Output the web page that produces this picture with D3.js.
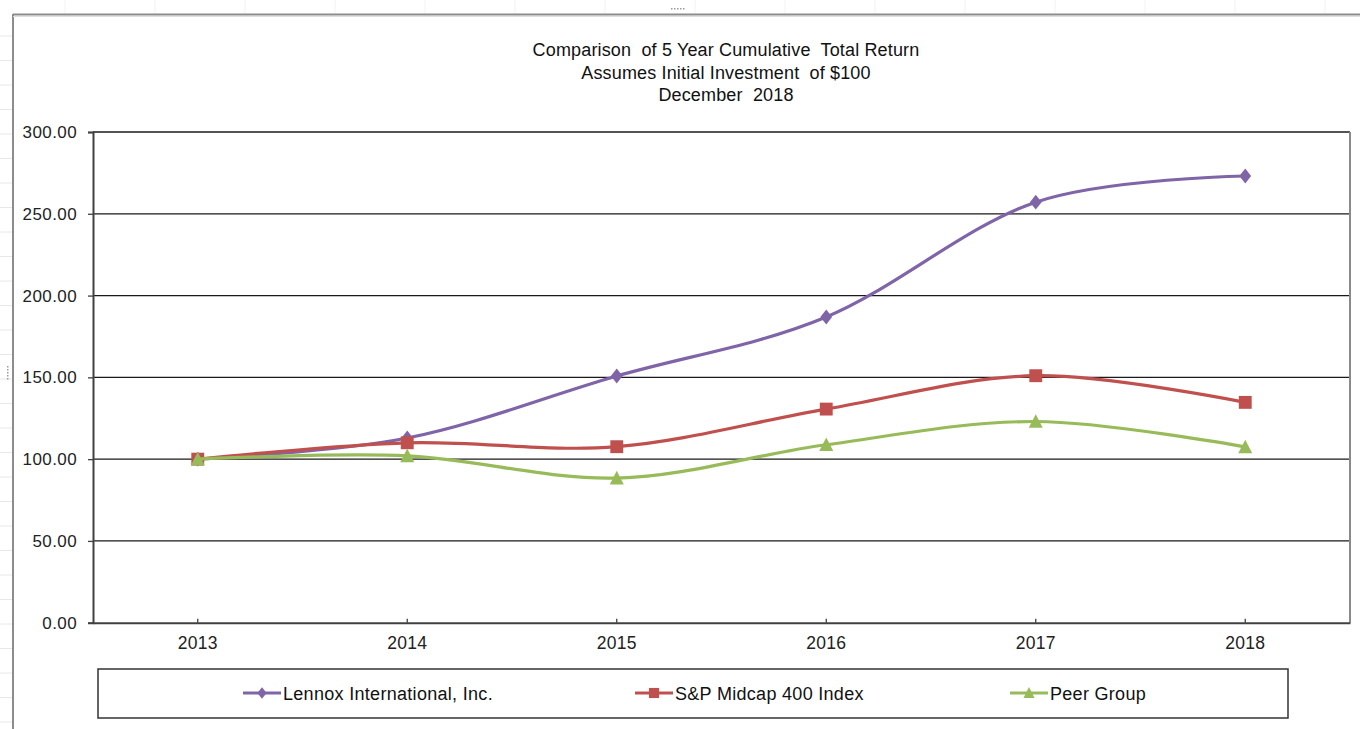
<!DOCTYPE html>
<html>
<head>
<meta charset="utf-8">
<script src="https://cdn.jsdelivr.net/npm/d3@7"></script>
<style>
  html, body { margin: 0; padding: 0; background: #ffffff; }
  svg { display: block; font-family: "Liberation Sans", Arial, sans-serif; }
</style>
</head>
<body>
<svg id="chart" width="1360" height="729"></svg>
<script>
// ---- data ----
const years = ["2013", "2014", "2015", "2016", "2017", "2018"];
const lennox = [100, 112.9, 150.8, 186.9, 257.1, 273.1];
const spMidcap = [100, 110.0, 107.6, 130.6, 151.0, 134.7];
const peerGroup = [100, 102.0, 88.4, 108.8, 123.0, 107.4];
const yTicks = [0, 50, 100, 150, 200, 250, 300];
const seriesNames = ["Lennox International, Inc.", "S&P Midcap 400 Index", "Peer Group"];
const titleLines = ["Comparison  of 5 Year Cumulative  Total Return", "Assumes Initial Investment  of $100", "December  2018"];

const colors = ["#7f64a8", "#c0504d", "#98bb59"];
const seriesData = [lennox, spMidcap, peerGroup];

const svg = d3.select("#chart");

// ---- frame (spreadsheet window look) ----
const frame = svg.append("g");
for (let yy = 36; yy < 729; yy += 24.5) {
  frame.append("line").attr("x1", 0).attr("x2", 12).attr("y1", yy).attr("y2", yy)
    .attr("stroke", "#e8e8e8").attr("stroke-width", 1);
}
for (let xx = 65; xx < 1360; xx += 90) {
  frame.append("line").attr("x1", xx).attr("x2", xx).attr("y1", 0).attr("y2", 13)
    .attr("stroke", "#f2f2f2").attr("stroke-width", 1);
}
frame.append("line").attr("x1", 13).attr("x2", 1360).attr("y1", 14.5).attr("y2", 14.5)
  .attr("stroke", "#8c8c8c").attr("stroke-width", 2);
frame.append("line").attr("x1", 13).attr("x2", 13).attr("y1", 14).attr("y2", 729)
  .attr("stroke", "#8c8c8c").attr("stroke-width", 2);
frame.append("line").attr("x1", 13).attr("x2", 1360).attr("y1", 16.5).attr("y2", 16.5)
  .attr("stroke", "#dedede").attr("stroke-width", 1);
// grip dots
for (let i = 0; i < 5; i++) {
  frame.append("rect").attr("x", 671 + i * 3).attr("y", 8).attr("width", 1.5).attr("height", 1.5).attr("fill", "#9a9a9a");
  frame.append("rect").attr("x", 7).attr("y", 366 + i * 3).attr("width", 1.5).attr("height", 1.5).attr("fill", "#9a9a9a");
}

// ---- scales ----
const plotLeft = 93, plotRight = 1350, plotTop = 132, plotBottom = 622.7;
const x = d3.scaleBand().domain(years).range([plotLeft, plotRight]).padding(0);
const xc = d => x(d) + x.bandwidth() / 2;
const y = d3.scaleLinear().domain([0, 300]).range([plotBottom, plotTop]);

// ---- title ----
const title = svg.append("text").attr("text-anchor", "middle").attr("font-size", 18)
  .attr("letter-spacing", "0.15px").attr("fill", "#111").style("white-space", "pre");
titleLines.forEach((t, i) => {
  title.append("tspan").attr("x", 726).attr("y", 56 + i * 22.5).style("white-space", "pre").text(t);
});

// ---- gridlines ----
svg.append("g").selectAll("line").data(yTicks.filter(v => v > 0)).join("line")
  .attr("x1", plotLeft).attr("x2", plotRight)
  .attr("y1", d => y(d)).attr("y2", d => y(d))
  .attr("stroke", "#1a1a1a").attr("stroke-width", 1.3);

// plot area right border
svg.append("line").attr("x1", plotRight).attr("x2", plotRight).attr("y1", plotTop).attr("y2", plotBottom)
  .attr("stroke", "#8a8a8a").attr("stroke-width", 2);

// ---- y axis ----
const yAxis = svg.append("g").attr("transform", `translate(${plotLeft},0)`)
  .call(d3.axisLeft(y).tickValues(yTicks).tickFormat(d3.format(".2f")).tickSize(5).tickPadding(11));
yAxis.select(".domain").attr("stroke", "#404040").attr("stroke-width", 2);
yAxis.selectAll(".tick line").attr("stroke", "#404040").attr("stroke-width", 1.3);
yAxis.selectAll(".tick text").attr("font-size", 17).attr("fill", "#222").attr("font-family", "Liberation Sans, Arial, sans-serif").attr("letter-spacing", "0.4px");

// ---- x axis ----
const xAxis = svg.append("g").attr("transform", `translate(0,${plotBottom})`)
  .call(d3.axisBottom(x).tickSize(-4).tickSizeOuter(0).tickPadding(14));
xAxis.select(".domain").attr("stroke", "#404040").attr("stroke-width", 2);
xAxis.selectAll(".tick line").attr("stroke", "#404040").attr("stroke-width", 1.3);
xAxis.selectAll(".tick text").attr("font-size", 17.5).attr("fill", "#222").attr("font-family", "Liberation Sans, Arial, sans-serif").attr("letter-spacing", "0.3px");

// ---- symbols ----
const diamondSym = { draw(ctx, s) { const w = s * 0.42, h = s * 0.53; ctx.moveTo(0, -h); ctx.lineTo(w, 0); ctx.lineTo(0, h); ctx.lineTo(-w, 0); ctx.closePath(); } };
const squareSym = { draw(ctx, s) { const h = s * 0.46; ctx.rect(-h, -h, 2 * h, 2 * h); } };
const triSym = { draw(ctx, s) { const w = s * 0.5, h = s * 0.45; ctx.moveTo(0, -h - 1); ctx.lineTo(w, h); ctx.lineTo(-w, h); ctx.closePath(); } };
const symTypes = [diamondSym, squareSym, triSym];

// ---- lines ----
const line = d3.line().x((d, i) => xc(years[i])).y(d => y(d)).curve(d3.curveCardinal.tension(0));
[0, 1, 2].forEach(k => {
  svg.append("path").datum(seriesData[k]).attr("d", line)
    .attr("fill", "none").attr("stroke", colors[k]).attr("stroke-width", 3.2)
    .attr("stroke-linejoin", "round");
  svg.append("g").selectAll("path").data(seriesData[k]).join("path")
    .attr("transform", (d, i) => `translate(${xc(years[i])},${y(d)})`)
    .attr("d", d3.symbol().type(symTypes[k]).size(14))
    .attr("fill", colors[k]);
});

// ---- legend ----
const legend = svg.append("g");
legend.append("rect").attr("x", 98).attr("y", 669).attr("width", 1190).attr("height", 49)
  .attr("fill", "#fff").attr("stroke", "#333").attr("stroke-width", 1.5);
const legendPos = [243, 635, 1010];
seriesNames.forEach((name, k) => {
  const lx = legendPos[k], ly = 693;
  legend.append("line").attr("x1", lx).attr("x2", lx + 38).attr("y1", ly).attr("y2", ly)
    .attr("stroke", colors[k]).attr("stroke-width", 3.2);
  legend.append("path").attr("transform", `translate(${lx + 19},${ly})`)
    .attr("d", d3.symbol().type(symTypes[k]).size(11)).attr("fill", colors[k]);
  legend.append("text").attr("x", lx + 40).attr("y", ly + 6.5).attr("font-size", 18)
    .attr("letter-spacing", "0.3px").attr("fill", "#111").text(name);
});
</script>
</body>
</html>
